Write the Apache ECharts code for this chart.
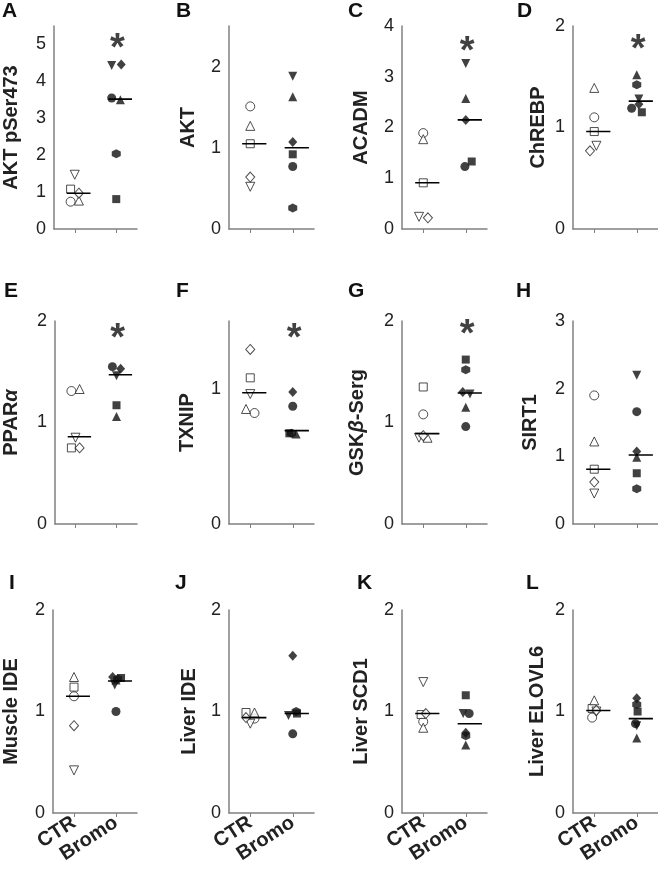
<!DOCTYPE html>
<html><head><meta charset="utf-8">
<script src="https://cdn.jsdelivr.net/npm/echarts@6/dist/echarts.min.js"></script>
<style>html,body{margin:0;padding:0;background:#fff}#c{width:658px;height:869px}</style>
</head><body><div id="c"></div>
<script>
// ---- DATA ----
const panelLetters = ['A','B','C','D','E','F','G','H','I','J','K','L'];
const yNames = ['AKT pSer473','AKT','ACADM','ChREBP','PPAR{i|α}','TXNIP','GSK{i|β}-Serg','SIRT1','Muscle IDE','Liver IDE','Liver SCD1','Liver ELOVL6'];
const yMax = [5.5, 2.5, 4, 2, 2, 1.5, 2, 3, 2, 2, 2, 2];
const yInterval = [1, 1, 1, 1, 1, 1, 1, 1, 1, 1, 1, 1];
const categories = ['CTR', 'Bromo'];
// shape order: circle, square, triangle up, triangle down, diamond, hexagon
const ctrValues = [
  [0.74, 1.08, 0.77, 1.47, 0.97],
  [1.51, 1.05, 1.27, 0.52, 0.64],
  [1.89, 0.91, 1.77, 0.24, 0.22],
  [1.10, 0.96, 1.39, 0.82, 0.77],
  [1.31, 0.75, 1.33, 0.85, 0.75],
  [0.82, 1.08, 0.85, 0.96, 1.29],
  [1.08, 1.35, 0.85, 0.85, 0.87],
  [1.90, 0.81, 1.22, 0.45, 0.62],
  [1.15, 1.24, 1.34, 0.42, 0.86],
  [0.93, 0.99, 0.99, 0.88, 0.94],
  [0.90, 0.97, 0.84, 1.29, 0.98],
  [0.94, 1.03, 1.11, 1.00, 1.01]
];
const bromoValues = [
  [3.55, 0.81, 3.50, 4.43, 4.46, 2.04],
  [0.77, 0.92, 1.63, 1.88, 1.07, 0.26],
  [1.23, 1.33, 2.57, 3.26, 2.15, null],
  [1.19, 1.15, 1.52, 1.28, 1.23, 1.42],
  [1.55, 1.17, 1.06, 1.46, 1.53, null],
  [0.87, 0.67, 0.665, null, 0.975, 0.67],
  [0.96, 1.62, 1.15, 1.28, 1.30, 1.52],
  [1.66, 0.75, 0.985, 2.20, 1.07, 0.52],
  [1.00, 1.33, 1.31, 1.26, 1.34, 1.32],
  [0.78, 0.98, null, 0.96, 1.55, 1.00],
  [0.98, 1.16, 0.67, 0.98, 0.79, 0.76],
  [0.88, 1.00, 0.74, 0.86, 1.13, 1.07]
];
const ctrMedian = [0.97, 1.05, 0.91, 0.96, 0.86, 0.97, 0.89, 0.81, 1.15, 0.94, 0.98, 1.01];
const bromoMedian = [3.52, 1.00, 2.15, 1.26, 1.47, 0.69, 1.29, 1.02, 1.30, 0.98, 0.88, 0.93];
const significant = [true, false, true, true, true, true, true, false, false, false, false, false];
// horizontal jitter of each point (in category units)
const ctrJitter = [
  [-0.1,-0.1,0.1,0,0.1],[0,0,0,0,0],[0,0,0,-0.1,0.11],[0,0,0,0.05,-0.1],
  [-0.1,-0.1,0.1,0,0.1],[0.1,0,-0.1,0,0],[0,0,0.1,-0.1,0],[0,0,0,0,0],
  [0,0,0,0,0],[0.1,-0.1,0.1,0,-0.1],[0,-0.05,0,0,0.06],[-0.05,-0.05,0,0.05,0.05]
];
const bromoJitter = [
  [-0.11,0,0.1,-0.11,0.12,0],[0,0,0,0,0,0],[-0.02,0.14,0,0,0,0],[-0.12,0.12,0,0.05,0.05,0],
  [-0.1,0,0,0,0.1,0],[0,-0.08,0.08,0,0,-0.03],[0,0,0,0.1,-0.07,0],[0,0,0,0,0,0],
  [0,0.12,0,-0.03,-0.08,0.04],[0,0.1,0,-0.1,0,0.08],[0.08,0,0,-0.06,0,0],[-0.03,0.02,0,0,0,0]
];

// ---- STYLE / LAYOUT ----
const symbols = ['circle','rect','triangle','path://M0,0L10,0L5,9Z','diamond','path://M5,0L9.33,2.5L9.33,7.5L5,10L0.67,7.5L0.67,2.5Z'];
const symSizes = [9, 8, 9, 9, [9,10], 9];
const colLeft = [52, 229, 402, 573];
const rowTop = [26, 321, 610];
const gridW = 85, gridH = 203;
const nameGaps = [33,31,31,25,34,32,35,33,32,30,31,26];
const starOffset = [24, 0, 27, 25, 19, 19, 15, 0, 0, 0, 0, 0];
const letterPos = [[2,1],[176,1],[348,1],[517,1],[4,281],[176,281],[348,281],[516,281],[9,573],[175,573],[357,573],[526,573]];
const FONT = 'Liberation Sans, Arial, Helvetica, sans-serif';
const axisColor = '#808080';

const grid = [], xAxis = [], yAxis = [], series = [], graphic = [];
for (let p = 0; p < 12; p++) {
  const col = p % 4, row = Math.floor(p / 4);
  grid.push({left: colLeft[col], top: rowTop[row], width: gridW, height: gridH, containLabel: false});
  xAxis.push({
    type: 'category', gridIndex: p, data: categories, boundaryGap: true,
    axisLine: {onZero: false, lineStyle: {color: axisColor, width: 1.5}},
    axisTick: {show: true, alignWithLabel: true, interval: 0, length: 4, lineStyle: {color: axisColor}},
    axisLabel: {show: row === 2, interval: 0, hideOverlap: false, rotate: 33, fontFamily: FONT, fontWeight: 'bold', fontSize: 20, color: '#222', margin: 8},
    splitLine: {show: false}
  });
  xAxis.push({type: 'value', gridIndex: p, min: -0.5, max: 1.5, show: false});
  const iv = yInterval[p];
  yAxis.push({
    type: 'value', gridIndex: p, min: 0, max: yMax[p], interval: iv,
    name: yNames[p], nameLocation: 'middle', nameGap: nameGaps[p], nameRotate: 90,
    nameTextStyle: {fontFamily: FONT, fontWeight: 'bold', fontSize: 20, color: '#222',
      rich: {i: {fontFamily: FONT, fontWeight: 'bold', fontStyle: 'italic', fontSize: 20, color: '#222'}}},
    axisLine: {show: true, onZero: false, lineStyle: {color: axisColor, width: 1.5}},
    axisTick: {show: false},
    axisLabel: {fontFamily: FONT, fontSize: 18, color: '#222', margin: 8,
      formatter: v => (Math.abs(v / iv - Math.round(v / iv)) < 1e-6 ? String(v) : '')},
    splitLine: {show: false}
  });
  const xi = 2 * p + 1;
  // CTR
  series.push({
    type: 'scatter', xAxisIndex: xi, yAxisIndex: p, z: 3,
    itemStyle: {color: '#fff', borderColor: '#222', borderWidth: 1},
    data: ctrValues[p].map((v, k) => v == null ? null : {value: [0 + ctrJitter[p][k], v], symbol: symbols[k], symbolSize: symSizes[k]}).filter(d => d)
  });
  // Bromo
  series.push({
    type: 'scatter', xAxisIndex: xi, yAxisIndex: p, z: 3,
    itemStyle: {color: '#111'},
    data: bromoValues[p].map((v, k) => v == null ? null : {value: [1 + bromoJitter[p][k], v], symbol: symbols[k], symbolSize: symSizes[k]}).filter(d => d)
  });
  // medians
  [[0, ctrMedian[p]], [1, bromoMedian[p]]].forEach(([c, m]) => {
    series.push({
      type: 'line', xAxisIndex: xi, yAxisIndex: p, z: 4, symbol: 'none', silent: true,
      lineStyle: {color: '#000', width: 1.6},
      data: [[c - 0.19, m], [c + 0.38, m]]
    });
  });
  if (significant[p]) {
    series.push({
      type: 'scatter', xAxisIndex: xi, yAxisIndex: p, symbolSize: 0, silent: true,
      data: [[1.03, yMax[p] * (1 - starOffset[p] / gridH)]],
      label: {show: true, formatter: '*', position: 'inside', fontFamily: FONT, fontWeight: 'bold', fontSize: 38, color: '#111'}
    });
  }
  graphic.push({type: 'text', left: letterPos[p][0], top: letterPos[p][1],
    style: {text: panelLetters[p], font: 'bold 21px ' + FONT, fill: '#111'}});
}

const chart = echarts.init(document.getElementById('c'), null, {renderer: 'canvas'});
chart.setOption({animation: false, backgroundColor: '#fff', grid, xAxis, yAxis, series, graphic});
</script></body></html>
